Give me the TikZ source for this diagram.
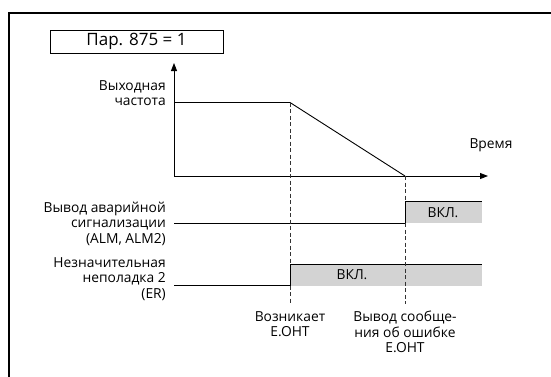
\documentclass[tikz,border=0pt]{standalone}
\usepackage{fontspec}
\setmainfont{Open Sans}
\usetikzlibrary{arrows.meta}
\definecolor{fillgray}{RGB}{211,211,211}
\begin{document}
\begin{tikzpicture}[x=1pt,y=-1pt,
  lbl/.style={font=\fontsize{13.8}{15.5}\selectfont, inner sep=0pt},
  rlbl/.style={lbl, align=right, anchor=east},
  clbl/.style={lbl, align=center},
  sig/.style={line width=0.9pt},
  axis/.style={line width=0.9pt, -{Triangle[length=8pt,width=6pt]}},
  dsh/.style={line width=0.8pt, dash pattern=on 4pt off 2.5pt, draw=black!80}]
\useasboundingbox (0,0) rectangle (551,376);
% frame
\draw[line width=2pt] (9,377) -- (9,13) -- (552,13);
% title
\node[draw, line width=0.8pt, minimum width=173pt, minimum height=23pt, inner sep=0pt,
  font=\fontsize{17}{20}\selectfont] (title) at (136.5,41.5) {Пар. 875 = 1};
% axes
\coordinate (O) at (174,176);
\coordinate (ytip) at (174,63);
\coordinate (xtip) at (488,176);
\draw[axis] (O) -- (ytip);
\draw[axis] (O) -- (xtip);
% frequency
\coordinate (f0) at (174,102.5);
\coordinate (f1) at (290,102.5);
\coordinate (f2) at (405,176);
\draw[sig] (f0) -- (f1) -- (f2);
% ALM signal
\fill[fillgray] (405,201.5) rectangle (482,223);
\coordinate (a0) at (174,223);
\coordinate (a1) at (405,223);
\coordinate (a2) at (405,201.5);
\coordinate (a3) at (482,201.5);
\draw[sig] (a0) -- (a1) -- (a2) -- (a3);
% ER signal
\fill[fillgray] (290,264) rectangle (482,285.5);
\coordinate (e0) at (174,285.5);
\coordinate (e1) at (290,285.5);
\coordinate (e2) at (290,264);
\coordinate (e3) at (482,264);
\draw[sig] (e0) -- (e1) -- (e2) -- (e3);
% dashed
\coordinate (d1b) at (290,304);
\coordinate (d2b) at (405,304);
\draw[dsh] (f1) -- (e2);
\draw[dsh] (e1) -- (d1b);
\draw[dsh] (f2) -- (a2);
\draw[dsh] (a1) -- (d2b);
% labels
\node[rlbl] (lfreq) at (166,93) {Выходная\\частота};
\node[clbl] (ltime) at (491,145) {Время};
\node[rlbl] (lalm) at (166,223.5) {Вывод аварийной\\сигнализации\\(ALM, ALM2)};
\node[rlbl] (ler) at (166,279) {Незначительная\\неполадка 2\\(ER)};
\node[clbl] (on1) at (443,212.5) {ВКЛ.};
\node[clbl] (on2) at (352,274.5) {ВКЛ.};
\node[clbl, anchor=north] (ev1) at (290,311) {Возникает\\E.OHT};
\node[clbl, anchor=north] (ev2) at (405,311) {Вывод сообще-\\ния об ошибке\\E.OHT};
\end{tikzpicture}
\end{document}
